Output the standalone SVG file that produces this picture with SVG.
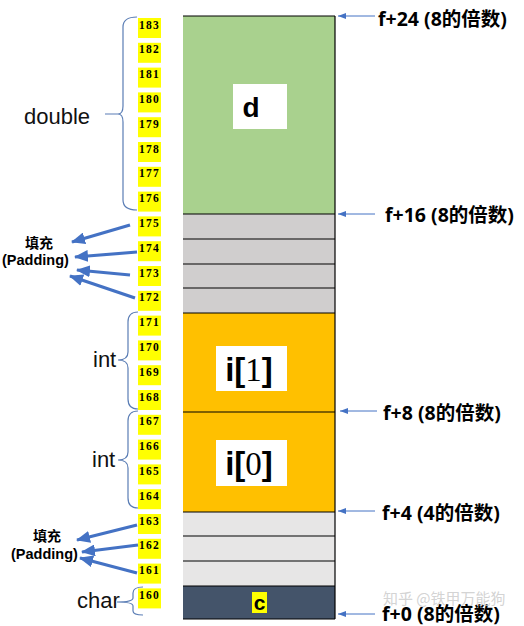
<svg xmlns="http://www.w3.org/2000/svg" width="524" height="626" viewBox="0 0 524 626">
<style>
.num{font-family:"Liberation Serif",serif;font-weight:bold;font-size:11.5px;letter-spacing:1.3px;fill:#000}
.yb{fill:#ffff00}
.lbl{font-family:"Liberation Sans",Arial,sans-serif;font-size:22px;fill:#111}
.pad{font-family:"Liberation Sans","Noto Sans CJK SC",sans-serif;font-weight:bold;font-size:14.5px;fill:#000}
.cjk{font-family:"Noto Sans CJK SC",sans-serif;font-weight:bold;font-size:14px;fill:#000}
.off{font-family:"Noto Sans","Noto Sans CJK SC",sans-serif;font-weight:bold;font-size:19.5px;fill:#000}
.brace{fill:none;stroke:#5a7db5;stroke-width:1.2}
.thick{stroke:#4472c4;stroke-width:3.2;fill:none}
.thin{stroke:#4472c4;stroke-width:1;fill:none}
.sep{stroke:#000;stroke-width:1.2}
.big{font-family:"Liberation Sans",Arial,sans-serif;font-weight:bold;fill:#000}
</style>
<defs>
<marker id="ah" markerUnits="userSpaceOnUse" markerWidth="14" markerHeight="12" refX="13" refY="6" orient="auto">
<path d="M0,0 L14,6 L0,12 z" fill="#4472c4"/>
</marker>
<marker id="as" markerUnits="userSpaceOnUse" markerWidth="8" markerHeight="6" refX="8" refY="3" orient="auto">
<path d="M0,0 L8,3 L0,6 z" fill="#4472c4"/>
</marker>
</defs>
<rect width="524" height="626" fill="#fff"/>

<g id="memory">
<rect x="183" y="16" width="152" height="198" fill="#a9d18e"/>
<rect x="183" y="214" width="152" height="99" fill="#d0cece"/>
<rect x="183" y="313" width="152" height="199" fill="#ffc000"/>
<rect x="183" y="512" width="152" height="74" fill="#e7e6e6"/>
<rect x="183" y="586" width="152" height="33" fill="#44546a"/>
<line class="sep" x1="183" y1="16" x2="335" y2="16"/>
<line class="sep" x1="183" y1="214" x2="335" y2="214"/>
<line class="sep" x1="183" y1="239" x2="335" y2="239"/>
<line class="sep" x1="183" y1="264" x2="335" y2="264"/>
<line class="sep" x1="183" y1="288" x2="335" y2="288"/>
<line class="sep" x1="183" y1="313" x2="335" y2="313"/>
<line class="sep" x1="183" y1="412" x2="335" y2="412"/>
<line class="sep" x1="183" y1="512" x2="335" y2="512"/>
<line class="sep" x1="183" y1="536" x2="335" y2="536"/>
<line class="sep" x1="183" y1="561" x2="335" y2="561"/>
<line class="sep" x1="183" y1="586" x2="335" y2="586"/>
<line class="sep" x1="183" y1="619" x2="335" y2="619"/>
<line class="sep" x1="335" y1="16" x2="335" y2="619"/>
</g>

<g id="var-d">
<rect x="233" y="84" width="54" height="45" fill="#fff"/>
<text class="big" x="251" y="117" font-size="28" text-anchor="middle">d</text>
</g>
<g id="var-i1">
<rect x="216" y="346" width="71" height="45" fill="#fff"/>
<text class="big" x="249" y="381" font-size="33" text-anchor="middle">i[<tspan font-family="Liberation Serif,serif" font-weight="normal">1</tspan>]</text>
</g>
<g id="var-i0">
<rect x="216" y="440" width="71" height="46" fill="#fff"/>
<text class="big" x="249" y="475" font-size="33" text-anchor="middle">i[<tspan font-family="Liberation Serif,serif" font-weight="normal">0</tspan>]</text>
</g>
<g id="var-c">
<rect x="252" y="592" width="15" height="21" fill="#ffff00"/>
<text class="big" x="259.5" y="610" font-size="21" text-anchor="middle">c</text>
</g>

<g id="addresses">
<rect class="yb" x="138" y="18" width="23" height="20"/><text class="num" x="139" y="28.5">183</text>
<rect class="yb" x="138" y="42.8" width="23" height="20"/><text class="num" x="139" y="53.3">182</text>
<rect class="yb" x="138" y="67.6" width="23" height="20"/><text class="num" x="139" y="78.1">181</text>
<rect class="yb" x="138" y="92.4" width="23" height="20"/><text class="num" x="139" y="102.9">180</text>
<rect class="yb" x="138" y="117.2" width="23" height="20"/><text class="num" x="139" y="127.7">179</text>
<rect class="yb" x="138" y="142" width="23" height="20"/><text class="num" x="139" y="152.5">178</text>
<rect class="yb" x="138" y="166.8" width="23" height="20"/><text class="num" x="139" y="177.3">177</text>
<rect class="yb" x="138" y="191.6" width="23" height="20"/><text class="num" x="139" y="202.1">176</text>
<rect class="yb" x="138" y="216.4" width="23" height="20"/><text class="num" x="139" y="226.9">175</text>
<rect class="yb" x="138" y="241.2" width="23" height="20"/><text class="num" x="139" y="251.7">174</text>
<rect class="yb" x="138" y="266" width="23" height="20"/><text class="num" x="139" y="276.5">173</text>
<rect class="yb" x="138" y="290.8" width="23" height="20"/><text class="num" x="139" y="301.3">172</text>
<rect class="yb" x="138" y="315.6" width="23" height="20"/><text class="num" x="139" y="326.1">171</text>
<rect class="yb" x="138" y="340.4" width="23" height="20"/><text class="num" x="139" y="350.9">170</text>
<rect class="yb" x="138" y="365.2" width="23" height="20"/><text class="num" x="139" y="375.7">169</text>
<rect class="yb" x="138" y="390" width="23" height="20"/><text class="num" x="139" y="400.5">168</text>
<rect class="yb" x="138" y="414.8" width="23" height="20"/><text class="num" x="139" y="425.3">167</text>
<rect class="yb" x="138" y="439.6" width="23" height="20"/><text class="num" x="139" y="450.1">166</text>
<rect class="yb" x="138" y="464.4" width="23" height="20"/><text class="num" x="139" y="474.9">165</text>
<rect class="yb" x="138" y="489.2" width="23" height="20"/><text class="num" x="139" y="499.7">164</text>
<rect class="yb" x="138" y="514" width="23" height="20"/><text class="num" x="139" y="524.5">163</text>
<rect class="yb" x="138" y="538.8" width="23" height="20"/><text class="num" x="139" y="549.3">162</text>
<rect class="yb" x="138" y="563.6" width="23" height="20"/><text class="num" x="139" y="574.1">161</text>
<rect class="yb" x="138" y="588.4" width="23" height="20"/><text class="num" x="139" y="598.9">160</text>
</g>

<g id="type-double">
<path class="brace" d="M137,17 Q123,17 123,27 L123,106 Q123,114 118,114 L105,114 M118,114 Q123,114 123,122 L123,200 Q123,210 137,210"/>
<text class="lbl" x="24" y="124">double</text>
</g>
<g id="type-int1">
<path class="brace" d="M138,312 Q128,312 128,322 L128,352 Q128,360 118,360 Q128,360 128,368 L128,399 Q128,409 138,409"/>
<text class="lbl" x="93" y="367">int</text>
</g>
<g id="type-int0">
<path class="brace" d="M138,411 Q128,411 128,421 L128,452 Q128,460 118,460 Q128,460 128,468 L128,498 Q128,508 138,508"/>
<text class="lbl" x="92" y="467">int</text>
</g>
<g id="type-char">
<path class="brace" d="M143,587 Q133,587 133,593 L133,598 Q133,602 117,602 Q133,602 133,606 L133,611 Q133,615 143,615"/>
<text class="lbl" x="77" y="608">char</text>
</g>

<g id="padding-top">
<text class="cjk" x="39" y="248" text-anchor="middle">填充</text>
<text class="pad" x="2" y="264.5">(Padding)</text>
</g>
<g id="padding-bottom">
<text class="cjk" x="47" y="541" text-anchor="middle">填充</text>
<text class="pad" x="11" y="558.5">(Padding)</text>
</g>

<g id="offsets">
<text class="off" x="378" y="26">f+24 (8的倍数)</text>
<text class="off" x="385" y="222">f+16 (8的倍数)</text>
<text class="off" x="383" y="420">f+8 (8的倍数)</text>
<text class="off" x="382" y="520">f+4 (4的倍数)</text>
<text class="off" x="382" y="621">f+0 (8的倍数)</text>
</g>

<g id="connectors">
<line class="thick" x1="130" y1="225" x2="72" y2="242" marker-end="url(#ah)"/>
<line class="thick" x1="137" y1="252" x2="75" y2="257" marker-end="url(#ah)"/>
<line class="thick" x1="130" y1="275" x2="77" y2="270" marker-end="url(#ah)"/>
<line class="thick" x1="135" y1="298" x2="70" y2="276" marker-end="url(#ah)"/>
<line class="thick" x1="137" y1="525" x2="77" y2="540" marker-end="url(#ah)"/>
<line class="thick" x1="138" y1="545" x2="82" y2="552" marker-end="url(#ah)"/>
<line class="thick" x1="137" y1="573" x2="80" y2="558" marker-end="url(#ah)"/>
<line class="thin" x1="375" y1="16" x2="338" y2="16" marker-end="url(#as)"/>
<line class="thin" x1="375" y1="214" x2="338" y2="214" marker-end="url(#as)"/>
<line class="thin" x1="377" y1="411" x2="340" y2="411" marker-end="url(#as)"/>
<line class="thin" x1="375" y1="511" x2="338" y2="511" marker-end="url(#as)"/>
<line class="thin" x1="375" y1="614" x2="338" y2="614" marker-end="url(#as)"/>
</g>

<text x="383" y="604" font-family="Noto Sans CJK SC,sans-serif" font-size="15" fill="#c8c8c8" fill-opacity="0.8">知乎 @铁甲万能狗</text>
</svg>
